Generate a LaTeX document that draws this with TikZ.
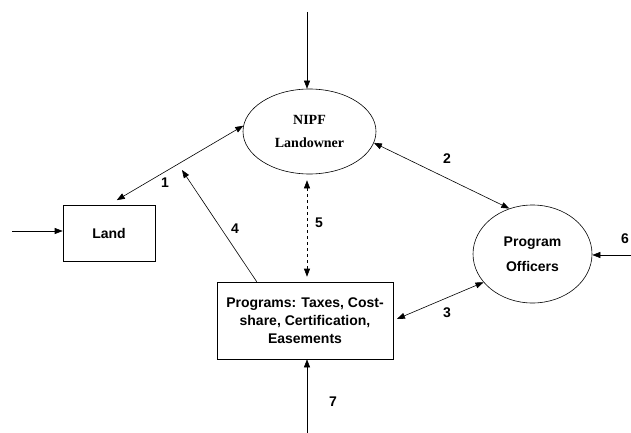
\documentclass[tikz,border=0pt]{standalone}
\usepackage{fontspec}
\setmainfont{Liberation Serif}
\setsansfont{Liberation Sans}
\usetikzlibrary{shapes.geometric}
\usetikzlibrary{arrows.meta}

\begin{document}
\begin{tikzpicture}[x=1pt,y=-1pt,line width=0.6pt,
  >={Triangle[length=8pt,width=6pt]},
  box/.style={draw,rectangle,inner sep=0pt,align=center,font=\fontsize{14}{18}\selectfont\sffamily\bfseries},
  oval/.style={draw,ellipse,inner sep=0pt,align=center},
  num/.style={font=\fontsize{14}{16}\selectfont\sffamily\bfseries}]
  \clip (0,0) rectangle (631,433);
  \node[oval,minimum width=133pt,minimum height=85pt,font=\fontsize{14}{23}\selectfont\rmfamily\bfseries](nipf) at (309.5,131.5) {NIPF\\Landowner};
  \node[box,minimum width=92pt,minimum height=56pt](land) at (109,233) {Land};
  \node[box,minimum width=176pt,minimum height=77pt](prog) at (305,320.5) {Programs: Taxes, Cost-\\share, Certification,\\Easements};
  \node[oval,minimum width=119pt,minimum height=98pt,font=\fontsize{14}{25}\selectfont\sffamily\bfseries](officers) at (532.5,254) {Program\\Officers};
  \coordinate (topin) at (307,12);
  \coordinate (landin) at (12,231);
  \coordinate (botin) at (307,433);
  \coordinate (rightin) at (640,255);
  \coordinate (tip4) at (182,170);
  \draw[->] (topin) -- (topin |- nipf.north);
  \draw[->] (landin) -- (landin -| land.west);
  \draw[<->,shorten <=9pt] (land.north) -- (nipf.175);
  \draw[<->] (nipf.-10) -- (officers.117);
  \draw[<->,shorten <=4pt] (prog.east) -- (officers.210);
  \draw[->] (rightin) -- (rightin -| officers.east);
  \draw[->] (botin) -- (botin |- prog.south);
  \draw[->] ([xshift=40pt]prog.north west) -- (tip4);
  \draw[<->,dashed,shorten <=6pt,shorten >=5pt] (topin |- nipf.south) -- (topin |- prog.north);
  \node[num](n1) at (165,183) {1};
  \node[num](n2) at (447,159) {2};
  \node[num](n3) at (447,313) {3};
  \node[num](n4) at (235,229) {4};
  \node[num](n5) at (319,223) {5};
  \node[num](n6) at (625,239) {6};
  \node[num](n7) at (333,402) {7};
\end{tikzpicture}
\end{document}
